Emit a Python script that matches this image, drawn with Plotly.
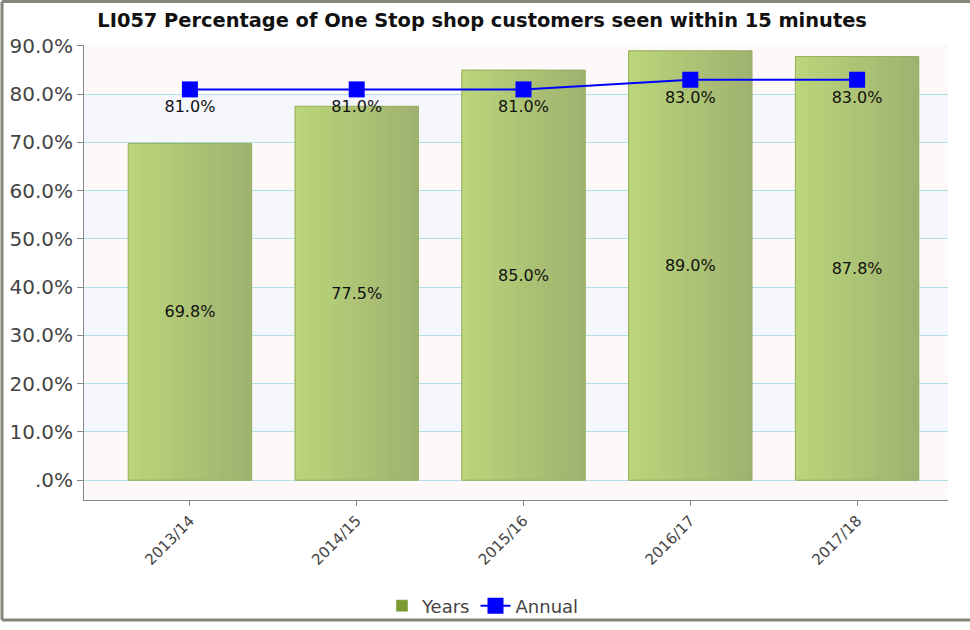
import plotly.graph_objects as go

categories = ["2013/14", "2014/15", "2015/16", "2016/17", "2017/18"]
years_values = [69.8, 77.5, 85.0, 89.0, 87.8]
annual_values = [81.0, 81.0, 81.0, 83.0, 83.0]
tick_vals = [0, 10, 20, 30, 40, 50, 60, 70, 80, 90]
tick_text = [".0%", "10.0%", "20.0%", "30.0%", "40.0%", "50.0%", "60.0%", "70.0%", "80.0%", "90.0%"]

FONT = "DejaVu Sans"
fig = go.Figure()

# gradient bars built from vertical strips
bar_w = 0.74
n_strips = 20
c0 = (186, 213, 122)
c1 = (160, 178, 112)
sw = bar_w / n_strips
for i in range(n_strips):
    t = i / (n_strips - 1)
    c = tuple(round(c0[k] + (c1[k] - c0[k]) * t) for k in range(3))
    w = sw * 1.3 if i < n_strips - 1 else sw
    fig.add_trace(go.Bar(
        x=categories, y=years_values, width=w, offset=-bar_w / 2 + i * sw,
        marker=dict(color="rgb(%d,%d,%d)" % c, line=dict(width=0)),
        showlegend=False, hoverinfo="skip",
    ))
# outline + labels
fig.add_trace(go.Bar(
    x=categories, y=years_values, width=bar_w, offset=-bar_w / 2,
    marker=dict(color="rgba(0,0,0,0)", line=dict(color="#94ad5c", width=1)),
    text=[f"{v:.1f}%" for v in years_values], textposition="inside",
    insidetextanchor="middle", textfont=dict(family=FONT, size=16, color="#111"),
    showlegend=False, name="Years",
))
# legend proxy
fig.add_trace(go.Bar(x=[None], y=[None], name="Years", marker=dict(color="#7a9a30")))

fig.add_trace(go.Scatter(
    x=categories, y=annual_values, name="Annual", mode="lines+markers+text",
    line=dict(color="#0000ff", width=2),
    marker=dict(symbol="square", size=16, color="#0000ff"),
    text=[f"{v:.1f}%" for v in annual_values], textposition="bottom center",
    textfont=dict(family=FONT, size=16, color="#111"),
))

# alternating bands
shapes = []
for lo in [10, 30, 50, 70]:
    shapes.append(dict(type="rect", xref="paper", yref="y", x0=0, x1=1, y0=lo, y1=lo + 10,
                       fillcolor="#f5f7fd", line=dict(width=0), layer="below"))
# outer frame (top, left, bottom edges)
PW, PH = 864, 455
fl = -82 / PW
fr = (972 - 84) / PW
ft = (500 - 1.5) / PH
fb = -(620 - 500) / PH
for (x0, y0, x1, y1) in [(fl, ft, fr, ft), (fl, fb, fl, ft), (fl, fb, fr, fb)]:
    shapes.append(dict(type="line", xref="paper", yref="paper", x0=x0, y0=y0, x1=x1, y1=y1,
                       line=dict(color="#86877a", width=3), layer="below"))

fig.update_layout(
    width=970, height=630,
    margin=dict(l=84, r=22, t=45, b=130, autoexpand=False),
    paper_bgcolor="white", plot_bgcolor="#fdf9f9",
    barmode="overlay",
    shapes=shapes,
    title=dict(text="<b>LI057 Percentage of One Stop shop customers seen within 15 minutes</b>",
               x=0.497, xanchor="center", y=1 - 20 / 630, yanchor="middle",
               font=dict(family=FONT, size=19.4, color="#111")),
    font=dict(family=FONT, size=14, color="#444"),
    legend=dict(orientation="h", x=(483 - 84) / PW, xanchor="center", yref="container",
                y=1 - 606 / 630, yanchor="middle",
                font=dict(family=FONT, size=18, color="#444"), bgcolor="rgba(0,0,0,0)",
                itemwidth=30, tracegroupgap=0),
    xaxis=dict(range=[-0.635, 4.545], showgrid=False, tickangle=-45, automargin=False,
               showline=True, linecolor="#888", linewidth=1,
               ticks="outside", ticklen=5, tickcolor="#888",
               tickfont=dict(family=FONT, size=15, color="#444")),
    yaxis=dict(range=[-4.1, 90.2], tickvals=tick_vals, ticktext=tick_text, automargin=False,
               showgrid=True, gridcolor="#b3dfe6", gridwidth=1, zeroline=False,
               showline=True, linecolor="#888", linewidth=1,
               ticks="outside", ticklen=6, tickcolor="#888",
               tickfont=dict(family=FONT, size=20, color="#444")),
)

fig.write_html("out.html", config={"displayModeBar": False},
               post_script="document.body.style.margin='0';")
